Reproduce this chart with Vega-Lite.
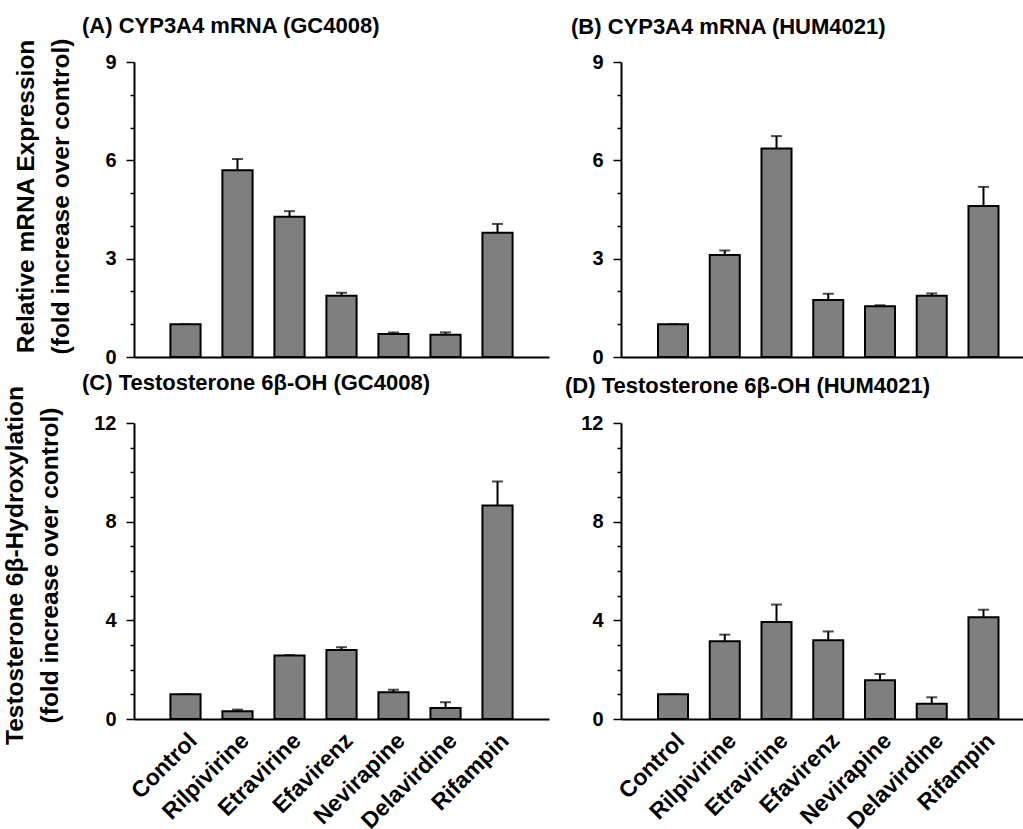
{
  "$schema": "https://vega.github.io/schema/vega-lite/v6.json",
  "background": "white",
  "padding": {"left": 2, "top": 15, "right": 0, "bottom": 0},
  "config": {
    "font": "Liberation Sans",
    "view": {"stroke": null},
    "axis": {
      "grid": false,
      "domainColor": "black",
      "domainWidth": 2,
      "tickColor": "black",
      "tickWidth": 1.5,
      "labelColor": "black",
      "labelFont": "Liberation Sans",
      "labelFontWeight": "bold",
      "labelFontSize": 20,
      "titleColor": "black",
      "titleFont": "Liberation Sans",
      "titleFontWeight": "bold",
      "titleFontSize": 24.5
    },
    "title": {"font": "Liberation Sans", "fontWeight": "bold", "fontSize": 22, "color": "black", "anchor": "start", "frame": "group"}
  },
  "datasets": {
    "d": [
      {"panel": "A", "drug": "Control", "value": 1.0, "upper": 1.0},
      {"panel": "A", "drug": "Rilpivirine", "value": 5.70, "upper": 6.04},
      {"panel": "A", "drug": "Etravirine", "value": 4.28, "upper": 4.45},
      {"panel": "A", "drug": "Efavirenz", "value": 1.87, "upper": 1.96},
      {"panel": "A", "drug": "Nevirapine", "value": 0.70, "upper": 0.75},
      {"panel": "A", "drug": "Delavirdine", "value": 0.68, "upper": 0.75},
      {"panel": "A", "drug": "Rifampin", "value": 3.79, "upper": 4.06},
      {"panel": "B", "drug": "Control", "value": 1.0, "upper": 1.0},
      {"panel": "B", "drug": "Rilpivirine", "value": 3.11, "upper": 3.25},
      {"panel": "B", "drug": "Etravirine", "value": 6.36, "upper": 6.74},
      {"panel": "B", "drug": "Efavirenz", "value": 1.74, "upper": 1.93},
      {"panel": "B", "drug": "Nevirapine", "value": 1.55, "upper": 1.58},
      {"panel": "B", "drug": "Delavirdine", "value": 1.87, "upper": 1.94},
      {"panel": "B", "drug": "Rifampin", "value": 4.61, "upper": 5.19},
      {"panel": "C", "drug": "Control", "value": 1.0, "upper": 1.0},
      {"panel": "C", "drug": "Rilpivirine", "value": 0.31, "upper": 0.38},
      {"panel": "C", "drug": "Etravirine", "value": 2.57, "upper": 2.59},
      {"panel": "C", "drug": "Efavirenz", "value": 2.80, "upper": 2.91},
      {"panel": "C", "drug": "Nevirapine", "value": 1.08, "upper": 1.19},
      {"panel": "C", "drug": "Delavirdine", "value": 0.45, "upper": 0.68},
      {"panel": "C", "drug": "Rifampin", "value": 8.66, "upper": 9.63},
      {"panel": "D", "drug": "Control", "value": 1.0, "upper": 1.0},
      {"panel": "D", "drug": "Rilpivirine", "value": 3.15, "upper": 3.42},
      {"panel": "D", "drug": "Etravirine", "value": 3.93, "upper": 4.64},
      {"panel": "D", "drug": "Efavirenz", "value": 3.19, "upper": 3.55},
      {"panel": "D", "drug": "Nevirapine", "value": 1.57, "upper": 1.82},
      {"panel": "D", "drug": "Delavirdine", "value": 0.62, "upper": 0.88},
      {"panel": "D", "drug": "Rifampin", "value": 4.12, "upper": 4.43}
    ]
  },
  "columns": 2,
  "bounds": "flush",
  "spacing": {"row": 66, "column": 72},
  "concat": [
    {
      "width": 415, "height": 295,
      "title": {"text": "(A) CYP3A4 mRNA (GC4008)", "dx": -52, "offset": 0},
      "data": {"name": "d"},
      "transform": [{"filter": "datum.panel === 'A'"}],
      "encoding": {
        "x": {"field": "drug", "type": "nominal", "sort": null,
              "scale": {"paddingInner": 0.42, "paddingOuter": 0.70},
              "axis": {"labels": false, "ticks": false, "title": null}},
        "y": {"field": "value", "type": "quantitative",
              "scale": {"domain": [0, 9], "nice": false},
              "axis": {"values": [0,1,2,3,4,5,6,7,8,9],
                       "labelExpr": "datum.value % 3 === 0 ? datum.label : ''",
                       "tickSize": {"condition": {"test": "datum.value % 3 === 0", "value": 8}, "value": 4},
                       "labelPadding": 10,
                       "title": ["Relative mRNA Expression", "(fold increase over control)"],
                       "titleLineHeight": 35,
                       "titlePadding": 31,
                       "titleY": 134}}
      },
      "layer": [
        {"mark": {"type": "rule", "color": "black", "strokeWidth": 2}, "encoding": {"y2": {"field": "upper"}}},
        {"mark": {"type": "tick", "color": "black", "thickness": 2, "size": 11, "orient": "horizontal"}, "encoding": {"y": {"field": "upper", "type": "quantitative"}}},
        {"mark": {"type": "bar", "fill": "#7f7f7f", "stroke": "black", "strokeWidth": 2}}
      ]
    },
    {
      "width": 403, "height": 295,
      "title": {"text": "(B) CYP3A4 mRNA (HUM4021)", "dx": -50, "offset": 13},
      "data": {"name": "d"},
      "transform": [{"filter": "datum.panel === 'B'"}],
      "encoding": {
        "x": {"field": "drug", "type": "nominal", "sort": null,
              "scale": {"paddingInner": 0.42, "paddingOuter": 0.604, "align": 0.592},
              "axis": {"labels": false, "ticks": false, "title": null}},
        "y": {"field": "value", "type": "quantitative",
              "scale": {"domain": [0, 9], "nice": false},
              "axis": {"values": [0,1,2,3,4,5,6,7,8,9],
                       "labelExpr": "datum.value % 3 === 0 ? datum.label : ''",
                       "tickSize": {"condition": {"test": "datum.value % 3 === 0", "value": 8}, "value": 4},
                       "labelPadding": 10,
                       "title": null}}
      },
      "layer": [
        {"mark": {"type": "rule", "color": "black", "strokeWidth": 2}, "encoding": {"y2": {"field": "upper"}}},
        {"mark": {"type": "tick", "color": "black", "thickness": 2, "size": 11, "orient": "horizontal"}, "encoding": {"y": {"field": "upper", "type": "quantitative"}}},
        {"mark": {"type": "bar", "fill": "#7f7f7f", "stroke": "black", "strokeWidth": 2}}
      ]
    },
    {
      "width": 415, "height": 296,
      "title": {"text": "(C) Testosterone 6β-OH (GC4008)", "dx": -52, "offset": -9},
      "data": {"name": "d"},
      "transform": [{"filter": "datum.panel === 'C'"}],
      "encoding": {
        "x": {"field": "drug", "type": "nominal", "sort": null,
              "scale": {"paddingInner": 0.42, "paddingOuter": 0.70},
              "axis": {"ticks": false, "tickSize": 0, "title": null, "labelAngle": -45, "labelAlign": "right", "labelBaseline": "top", "labelPadding": 10, "labelOffset": 0, "labelFontSize": 23}},
        "y": {"field": "value", "type": "quantitative",
              "scale": {"domain": [0, 12], "nice": false},
              "axis": {"values": [0,1,2,3,4,5,6,7,8,9,10,11,12],
                       "labelExpr": "datum.value % 4 === 0 ? datum.label : ''",
                       "tickSize": {"condition": {"test": "datum.value % 4 === 0", "value": 8}, "value": 4},
                       "labelPadding": 10,
                       "title": ["Testosterone 6β-Hydroxylation", "(fold increase over control)"],
                       "titleLineHeight": 35,
                       "titlePadding": 31,
                       "titleY": 142}}
      },
      "layer": [
        {"mark": {"type": "rule", "color": "black", "strokeWidth": 2}, "encoding": {"y2": {"field": "upper"}}},
        {"mark": {"type": "tick", "color": "black", "thickness": 2, "size": 11, "orient": "horizontal"}, "encoding": {"y": {"field": "upper", "type": "quantitative"}}},
        {"mark": {"type": "bar", "fill": "#7f7f7f", "stroke": "black", "strokeWidth": 2}}
      ]
    },
    {
      "width": 403, "height": 296,
      "title": {"text": "(D) Testosterone 6β-OH (HUM4021)", "dx": -56, "offset": 15},
      "data": {"name": "d"},
      "transform": [{"filter": "datum.panel === 'D'"}],
      "encoding": {
        "x": {"field": "drug", "type": "nominal", "sort": null,
              "scale": {"paddingInner": 0.42, "paddingOuter": 0.604, "align": 0.592},
              "axis": {"ticks": false, "tickSize": 0, "title": null, "labelAngle": -45, "labelAlign": "right", "labelBaseline": "top", "labelPadding": 10, "labelOffset": 0, "labelFontSize": 23}},
        "y": {"field": "value", "type": "quantitative",
              "scale": {"domain": [0, 12], "nice": false},
              "axis": {"values": [0,1,2,3,4,5,6,7,8,9,10,11,12],
                       "labelExpr": "datum.value % 4 === 0 ? datum.label : ''",
                       "tickSize": {"condition": {"test": "datum.value % 4 === 0", "value": 8}, "value": 4},
                       "labelPadding": 10,
                       "title": null}}
      },
      "layer": [
        {"mark": {"type": "rule", "color": "black", "strokeWidth": 2}, "encoding": {"y2": {"field": "upper"}}},
        {"mark": {"type": "tick", "color": "black", "thickness": 2, "size": 11, "orient": "horizontal"}, "encoding": {"y": {"field": "upper", "type": "quantitative"}}},
        {"mark": {"type": "bar", "fill": "#7f7f7f", "stroke": "black", "strokeWidth": 2}}
      ]
    }
  ]
}
